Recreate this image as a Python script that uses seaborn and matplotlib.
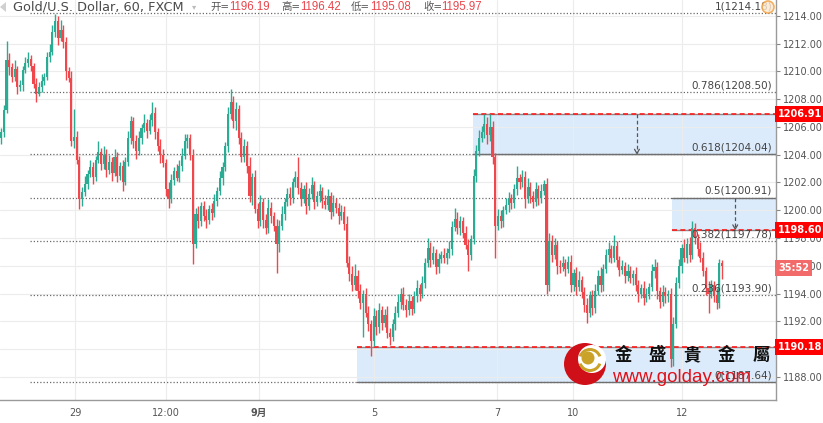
import numpy as np
import pandas as pd
import seaborn as sns
import matplotlib.pyplot as plt
import matplotlib.transforms as mtransforms
from matplotlib.patches import Circle, Rectangle, Polygon, Wedge

# hourly closes (XAU/USD, FXCM, 60 min)
closes = [
    1205.6, 1207.2, 1210.8, 1210.3, 1209.6, 1210.2, 1208.9, 1209.0, 1210.1, 1210.6,
    1210.9, 1210.4, 1209.1, 1208.4, 1208.9, 1209.3, 1209.6, 1211.0, 1211.4, 1212.8,
    1213.6, 1212.4, 1213.0, 1212.1, 1210.0, 1209.5, 1205.0, 1205.3, 1203.6, 1200.8,
    1201.3, 1201.9, 1202.6, 1203.1, 1202.4, 1203.6, 1204.2, 1203.3, 1204.0, 1202.9,
    1203.5, 1202.7, 1203.8, 1202.5, 1203.2, 1202.0, 1203.5, 1205.2, 1206.4, 1205.0,
    1204.3, 1205.2, 1205.9, 1206.3, 1205.7, 1206.5, 1207.0, 1205.6, 1204.6, 1204.0,
    1203.4, 1201.5, 1200.8, 1202.2, 1202.8, 1202.3, 1203.2, 1203.9, 1205.0, 1205.2,
    1204.0, 1197.6, 1199.7, 1199.2, 1200.3, 1199.6, 1199.3, 1200.1, 1199.8, 1200.7,
    1201.4, 1202.3, 1203.1, 1204.6, 1206.9, 1207.8, 1206.4, 1207.3, 1205.2, 1203.8,
    1204.6, 1203.2, 1201.0, 1202.4, 1200.1, 1199.2, 1200.6, 1199.3, 1198.7, 1200.2,
    1199.6, 1198.9, 1197.6, 1198.9, 1199.7, 1200.6, 1201.2, 1200.9, 1202.0, 1202.4,
    1201.6, 1200.8, 1201.5, 1200.3, 1201.2, 1201.8, 1200.6, 1201.0, 1201.4, 1200.7,
    1200.4, 1201.0, 1199.9, 1200.5, 1200.2, 1199.6, 1199.9, 1199.0, 1196.2, 1195.4,
    1194.6, 1195.3, 1194.2, 1193.3, 1194.0, 1192.6, 1191.8, 1190.6, 1192.4, 1191.6,
    1192.8, 1191.9, 1192.5, 1191.2, 1190.9, 1191.8, 1192.6, 1193.4, 1194.0, 1193.2,
    1192.8, 1193.5, 1192.9, 1193.8, 1194.4, 1194.0, 1194.8, 1196.2, 1197.3, 1196.4,
    1196.9, 1195.9, 1196.5, 1196.8, 1196.6, 1196.9, 1197.2, 1198.8, 1199.4, 1198.7,
    1199.2, 1198.4, 1197.5, 1196.8, 1197.9, 1202.5, 1204.3, 1205.2, 1205.6, 1206.2,
    1205.4, 1206.0, 1203.8, 1198.9, 1199.6, 1199.2, 1200.0, 1200.4, 1200.9, 1200.5,
    1201.5, 1202.3, 1202.0, 1202.4, 1200.8, 1201.7, 1201.0, 1200.6, 1201.5, 1200.9,
    1201.4, 1201.9, 1194.6, 1197.8, 1196.8, 1197.5, 1196.0, 1195.9, 1196.2, 1195.8,
    1196.3, 1194.6, 1195.5, 1194.5, 1195.0, 1194.1, 1193.2, 1192.6, 1193.9, 1193.0,
    1194.2, 1195.3, 1194.6, 1195.8, 1196.8, 1197.2, 1196.6, 1197.4, 1196.4, 1195.7,
    1196.0, 1195.3, 1195.6, 1195.1, 1195.4, 1194.6, 1194.0, 1194.4, 1193.7, 1194.0,
    1194.5, 1195.6, 1195.9, 1194.2, 1193.4, 1194.1, 1193.8, 1194.0, 1189.3, 1191.8,
    1194.8, 1196.0, 1197.3, 1196.6, 1197.6, 1196.8, 1198.7, 1198.0, 1197.2, 1196.6,
    1195.6, 1194.4, 1194.0, 1194.6, 1193.9, 1193.3, 1196.19, 1195.97,
]
first_open = 1205.2

# upper / lower shadow lengths in tenths of a dollar
wick_up = [
    3, 4, 14, 5, 3, 6, 2, 4, 3, 4,   5, 3, 2, 4, 3, 5, 3, 4, 6, 5,
    5, 4, 7, 3, 4, 3, 5, 20, 4, 3,   4, 6, 3, 5, 4, 3, 8, 3, 6, 4,
    5, 3, 6, 4, 3, 4, 3, 5, 4, 3,    4, 5, 3, 6, 3, 4, 8, 4, 3, 5,
    4, 3, 5, 4, 3, 5, 4, 6, 5, 3,    3, 4, 5, 6, 3, 4, 5, 3, 4, 5,
    3, 5, 4, 3, 5, 9, 4, 5, 3, 4,    5, 4, 6, 3, 5, 4, 5, 3, 4, 6,
    4, 3, 5, 4, 6, 3, 4, 5, 3, 4,    14, 4, 3, 5, 4, 6, 3, 4, 5, 3,
    4, 5, 3, 6, 4, 3, 5, 4, 6, 5,    6, 8, 4, 5, 3, 4, 5, 3, 6, 4,
    5, 3, 4, 6, 3, 4, 5, 6, 4, 5,    4, 5, 3, 4, 6, 3, 5, 4, 7, 4,
    5, 3, 4, 3, 5, 4, 6, 4, 8, 5,    4, 3, 5, 4, 3, 5, 4, 6, 5, 7,
    5, 9, 4, 3, 5, 4, 3, 5, 4, 3,    4, 9, 3, 5, 4, 6, 3, 4, 5, 3,
    5, 3, 4, 6, 4, 5, 3, 4, 5, 3,    4, 5, 3, 4, 6, 3, 4, 5, 3, 4,
    5, 4, 6, 3, 4, 5, 3, 8, 4, 3,    4, 3, 5, 4, 3, 5, 4, 3, 5, 4,
    3, 5, 6, 4, 3, 5, 4, 3, 4, 5,    4, 5, 3, 6, 4, 5, 5, 4, 3, 5,
    4, 3, 5, 4, 3, 5, 3, 2,
]
wick_dn = [
    4, 3, 2, 6, 4, 3, 5, 3, 4, 2,    3, 4, 3, 6, 2, 4, 3, 2, 3, 2,
    3, 5, 2, 4, 6, 3, 4, 5, 3, 7,    5, 3, 4, 2, 5, 3, 2, 4, 3, 5,
    3, 6, 2, 5, 3, 6, 2, 3, 4, 5,    6, 3, 4, 3, 5, 2, 4, 5, 3, 6,
    3, 5, 6, 3, 4, 2, 3, 4, 2, 5,    4, 15, 3, 5, 3, 4, 6, 3, 5, 3,
    4, 3, 5, 3, 4, 3, 5, 6, 4, 3,    3, 5, 4, 6, 3, 5, 3, 6, 4, 3,
    5, 4, 21, 6, 3, 4, 3, 5, 4, 3,   4, 5, 3, 6, 3, 4, 5, 3, 4, 5,
    3, 4, 5, 3, 4, 6, 3, 4, 3, 5,    4, 3, 5, 4, 24, 3, 5, 11, 4, 6,
    4, 5, 3, 4, 6, 3, 4, 3, 5, 4,    5, 3, 4, 3, 4, 5, 3, 4, 3, 5,
    3, 5, 4, 3, 4, 5, 3, 4, 3, 4,    5, 4, 3, 12, 4, 3, 5, 4, 3, 4,
    6, 4, 5, 23, 3, 5, 4, 3, 5, 4,   3, 4, 5, 3, 6, 3, 5, 4, 3, 5,
    4, 3, 6, 4, 5, 3, 6, 4, 3, 5,    3, 5, 4, 6, 3, 4, 5, 7, 3, 5,
    4, 3, 5, 4, 3, 5, 4, 3, 5, 4,    3, 5, 4, 3, 5, 4, 6, 3, 5, 3,
    4, 3, 5, 6, 4, 3, 5, 4, 6, 5,    3, 4, 5, 3, 4, 5, 3, 4, 5, 3,
    3, 5, 14, 3, 5, 4, 3, 9,
]

fib_ratios = ['1', '0.786', '0.618', '0.5', '0.382', '0.236', '0']
fib_levels = [1214.18, 1208.50, 1204.04, 1200.91, 1197.78, 1193.90, 1187.64]
mark_levels = [1206.91, 1198.60, 1190.18]     # red dashed lines / price tags
zone_other_edge = [1204.04, 1200.91, 1187.64]  # opposite edge of each blue zone
countdown = '35:52'
last_price = 1195.97

xtick_labels = ['29', '12:00', '9月', '5', '7', '10', '12']
head_names = ['开', '高', '低', '收']
head_values = [1196.19, 1196.42, 1195.08, 1195.97]

# ---- build ohlc frame
df = pd.DataFrame({'close': closes})
df['open'] = [first_open] + closes[:-1]
df['high'] = df[['open', 'close']].max(axis=1) + np.array(wick_up) / 10
df['low'] = df[['open', 'close']].min(axis=1) - np.array(wick_dn) / 10
df['up'] = df['close'] >= df['open']

sns.set_style('white')
plt.rcParams['font.family'] = ['DejaVu Sans', 'Noto Sans CJK SC']

GREEN = '#2bab94'
RED = '#f0474c'

fig = plt.figure(figsize=(8.23, 4.23), dpi=100)
ax = fig.add_axes([0, 23 / 423, 776 / 823, 400 / 423])
ax.set_xlim(-0.41, 287.0)
ax.set_ylim(1186.35, 1215.13)

# grid
yt = np.arange(1188, 1215, 2)
ax.set_yticks(yt)
# 1190.00 sits exactly under the 1190.18 tag, so its label is left blank
ax.set_yticklabels(['' if v == 1190 else f'{v:.2f}' for v in yt])
xtick_pos = [27.4, 61.0, 95.5, 138.1, 183.7, 211.8, 252.2]
ax.set_xticks(xtick_pos)
ax.set_xticklabels(xtick_labels)
ax.grid(True, color='#ececec', lw=0.8)
ax.set_axisbelow(True)

ax.yaxis.tick_right()
ax.tick_params(axis='y', length=3, color='#888', labelsize=7, labelcolor='#555', pad=2)
ax.tick_params(axis='x', length=3, color='#888', labelsize=7, labelcolor='#555', pad=3)
for lab in ax.get_xticklabels():
    if lab.get_text() == '9月':
        lab.set_fontweight('bold')
for side in ['top', 'left']:
    ax.spines[side].set_visible(False)
for side in ['right', 'bottom']:
    ax.spines[side].set_color('#9a9a9a')
    ax.spines[side].set_linewidth(1)

x_end = 287.0
zone_start = [174.8, 248.5, 131.8]
fib_start = 10.7

# blue zones
for lvl, other, xs in zip(mark_levels, zone_other_edge, zone_start):
    ax.add_patch(Rectangle((xs, min(lvl, other)), x_end - xs, abs(lvl - other),
                           facecolor='#dcebfb', edgecolor='none', zorder=0.5))

# fib dotted lines and labels
for r, lvl in zip(fib_ratios, fib_levels):
    ax.plot([fib_start, x_end], [lvl, lvl], color='#6a6a6a', lw=0.9,
            dashes=(1, 1.6), zorder=1)
    ax.text(285.6, lvl + 0.13, f'{r}({lvl:.2f})', ha='right', va='bottom',
            fontsize=7.5, color='#444', zorder=4)

# solid zone edges on fib levels
for other, xs in zip(zone_other_edge, zone_start):
    ax.plot([xs, x_end], [other, other], color='#6f6f6f', lw=1.0, zorder=1.2)

# red dashed lines
for lvl, xs in zip(mark_levels, zone_start):
    ax.plot([xs, x_end], [lvl, lvl], color='#8a8a8a', lw=1.0, zorder=1.3)
    ax.plot([xs, x_end], [lvl, lvl], color='#ff1a1a', lw=1.2, dashes=(3, 2), zorder=1.4)

# dashed arrows inside zones
arrow_x = [235.5, 271.9]
for a_x, top, bot in zip(arrow_x, [mark_levels[0], zone_other_edge[1]],
                        [zone_other_edge[0], mark_levels[1]]):
    ax.plot([a_x, a_x], [top, bot + 0.1], color='#555', lw=0.9, dashes=(3, 2), zorder=1.5)
    ax.plot([a_x - 0.9, a_x, a_x + 0.9], [bot + 0.35, bot + 0.05, bot + 0.35],
            color='#555', lw=0.9, zorder=1.5)

# candles
idx = df.index.values
colors = np.where(df['up'], GREEN, RED)
ax.vlines(idx, df['low'], df['high'], colors=colors, lw=1.0, zorder=2)
body = (df['close'] - df['open']).values
body = np.where(np.abs(body) < 0.06, 0.06, body)
ax.bar(idx, body, bottom=df['open'], width=0.78, color=colors, linewidth=0, zorder=2.1)

# price tags on the axis
blend = mtransforms.blended_transform_factory(ax.transAxes, ax.transData)
for lvl in mark_levels:
    ax.text(1.003, lvl, f'{lvl:.2f}', transform=blend, ha='left', va='center',
            fontsize=7, fontweight='bold', color='white', clip_on=False, zorder=6,
            bbox=dict(boxstyle='square,pad=0.3', facecolor='#ff0000', edgecolor='none'))
ax.text(1.003, last_price - 0.12, countdown, transform=blend, ha='left', va='center',
        fontsize=7, fontweight='bold', color='white', clip_on=False, zorder=6,
        bbox=dict(boxstyle='square,pad=0.3', facecolor='#f26a6a', edgecolor='none'))

# ---- overlay in pixel coordinates: header, handle, watermark
ov = fig.add_axes([0, 0, 1, 1], zorder=5)
ov.set_xlim(0, 823)
ov.set_ylim(423, 0)
ov.axis('off')
ov.patch.set_alpha(0)

ov.add_patch(Polygon([[0, 7], [6, 2], [6, 12]], closed=True, facecolor='#d0d0d0', edgecolor='none'))
ov.text(13, 7, 'Gold/U.S. Dollar, 60, FXCM', fontsize=9.3, color='#4a4a4a', va='center', ha='left')
ov.text(192, 7, '▾', fontsize=6, color='#bbbbbb', va='center', ha='left')
for name, val, xn, xv in zip(head_names, head_values, [210, 281, 351, 423], [229, 300, 370, 441]):
    ov.text(xn, 7, f'{name}=', fontsize=7.5, color='#555', va='center', ha='left')
    ov.text(xv, 7, f'{val:.2f}', fontsize=8.3, family=['Liberation Sans'],
            color='#e8474c', va='center', ha='left')

ov.add_patch(Circle((768, 7), 6, facecolor='#fde9cf', edgecolor='#f0a040', lw=1.2, alpha=0.8))

# golday watermark
ov.add_patch(Circle((585, 364), 21, facecolor='#d01018', edgecolor='none'))
ov.add_patch(Circle((592, 359), 14, facecolor='white', edgecolor='none'))
ov.add_patch(Wedge((590, 360), 12, 200, 340, width=3, facecolor='#c9a227', edgecolor='none'))
ov.add_patch(Wedge((590, 360), 12, 20, 160, width=3, facecolor='#c9a227', edgecolor='none'))
ov.add_patch(Circle((588, 358), 6.5, facecolor='#c9a227', edgecolor='none'))
for k, ch in enumerate('金盛貴金屬'):
    ov.text(623 + 34.5 * k, 355, ch, fontsize=12.5, family=['Noto Sans CJK TC'],
            color='#111', ha='center', va='center', fontweight='bold')
ov.text(612, 377, 'www.golday.com', fontsize=13.5, family=['Liberation Sans'],
        color='#e0101a', ha='left', va='center')

fig.savefig('out.png', dpi=100)
